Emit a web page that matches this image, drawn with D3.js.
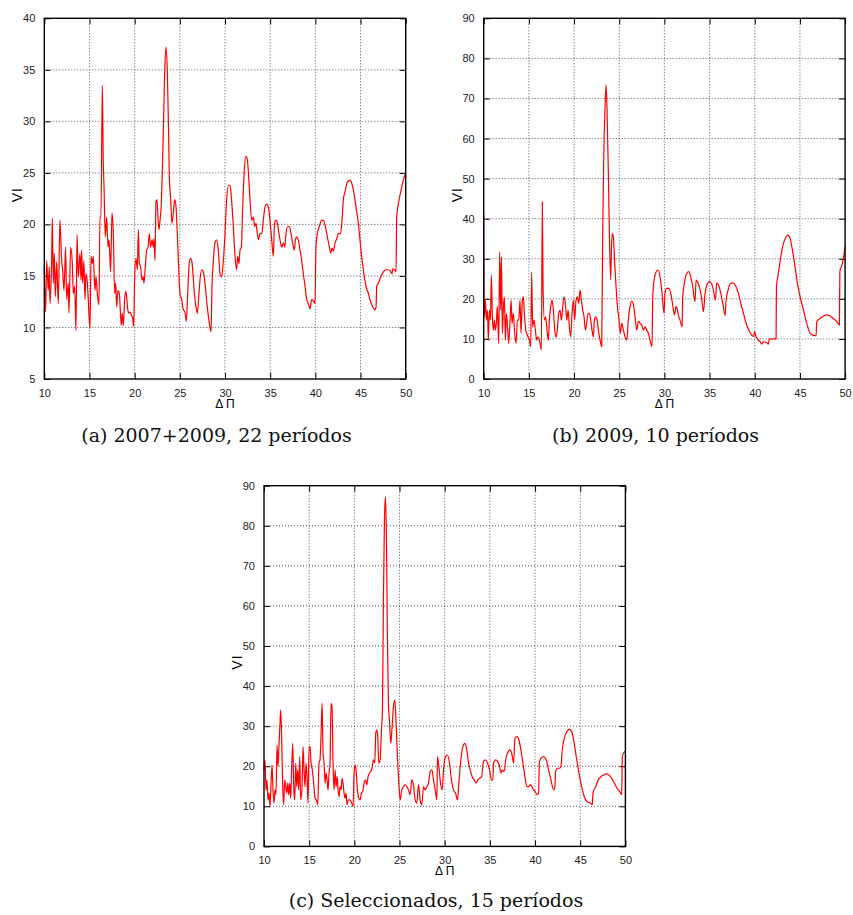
<!DOCTYPE html>
<html>
<head>
<meta charset="utf-8">
<script src="https://cdnjs.cloudflare.com/ajax/libs/d3/7.8.5/d3.min.js"></script>
<style>
  body { margin: 0; background: #fff; }
  svg { display: block; }
</style>
</head>
<body>
<div id="chart-area"></div>
<script>
// tick values
let xTicks = [10, 15, 20, 25, 30, 35, 40, 45, 50];
let yTicksA = [5, 10, 15, 20, 25, 30, 35, 40];
let yTicksBC = [0, 10, 20, 30, 40, 50, 60, 70, 80, 90];

// (a) 2007+2009, 22 periodos  -> [ΔΠ, VI]
let serieA = [
  [10.00,16.0],[10.15,11.5],[10.26,16.5],[10.44,13.6],[10.55,15.9],[10.63,12.3],[10.81,16.5],[10.89,20.6],
  [11.00,14.3],[11.11,17.2],[11.22,13.0],[11.37,16.4],[11.55,12.3],[11.73,20.4],[11.92,16.5],[12.03,15.6],
  [12.18,13.6],[12.36,17.8],[12.47,12.7],[12.66,14.3],[12.73,11.4],[12.92,17.8],[13.10,16.2],[13.21,13.3],
  [13.36,14.0],[13.51,9.7],[13.62,19.0],[13.76,14.9],[13.95,17.2],[14.06,14.6],[14.13,17.5],[14.24,14.3],
  [14.39,16.5],[14.50,12.7],[14.61,15.2],[14.76,14.4],[14.98,10.7],[15.06,9.9],[15.17,16.9],[15.31,16.2],
  [15.42,16.9],[15.61,13.6],[15.72,14.9],[15.87,13.3],[16.05,12.2],[16.16,20.7],[16.27,20.7],[16.42,33.5],
  [16.53,25.9],[16.61,23.7],[16.75,18.8],[16.90,20.7],[17.05,17.8],[17.16,18.5],[17.34,15.4],[17.49,21.1],
  [17.64,19.1],[17.79,13.3],[17.90,14.3],[18.01,12.0],[18.15,13.6],[18.30,13.3],[18.52,10.2],[18.63,11.4],
  [18.75,10.2],[18.89,12.7],[19.04,13.5],[19.23,11.8],[19.34,11.4],[19.48,11.5],[19.63,11.2],[19.78,10.9],
  [19.89,10.1],[20.00,14.9],[20.15,16.7],[20.30,15.6],[20.41,19.5],[20.52,16.2],[20.66,15.9],[20.81,14.6],
  [20.96,14.9],[21.03,14.3],[21.18,15.9],[21.33,17.5],[21.48,17.8],[21.62,19.1],[21.77,17.8],[21.92,18.5],
  [22.07,17.8],[22.14,18.6],[22.25,16.5],[22.36,22.2],[22.47,22.4],[22.58,20.7],[22.69,19.5],[22.80,20.3],
  [22.95,22.0],[23.06,25.0],[23.17,28.8],[23.32,34.7],[23.47,37.2],[23.62,34.7],[23.76,28.8],[23.84,24.6],
  [23.99,22.4],[24.13,20.1],[24.28,21.1],[24.43,22.4],[24.58,21.7],[24.72,19.1],[24.87,15.9],[24.94,14.3],
  [25.02,13.3],[25.09,13.0],[25.20,12.8],[25.31,12.0],[25.42,11.7],[25.57,11.5],[25.72,10.6],[25.87,13.3],
  [26.01,15.9],[26.16,16.7],[26.31,16.5],[26.46,15.2],[26.61,13.3],[26.79,12.0],[26.94,11.4],[27.08,12.7],
  [27.23,14.6],[27.42,15.6],[27.60,15.4],[27.82,14.0],[28.04,12.0],[28.27,10.4],[28.45,9.6],[28.56,14.0],
  [28.71,16.5],[28.89,18.2],[29.08,18.5],[29.26,17.5],[29.45,15.2],[29.63,14.9],[29.82,16.5],[30.00,19.1],
  [30.18,22.4],[30.41,23.8],[30.55,23.8],[30.70,22.7],[30.92,19.8],[31.11,16.9],[31.29,15.6],[31.40,16.9],
  [31.55,16.2],[31.66,17.5],[31.81,17.8],[31.96,21.7],[32.14,25.3],[32.32,26.6],[32.47,26.3],[32.62,24.6],
  [32.77,22.4],[32.95,20.4],[33.14,20.7],[33.28,19.8],[33.43,20.1],[33.58,19.1],[33.73,18.5],[33.87,19.1],
  [34.06,19.1],[34.24,20.4],[34.43,21.7],[34.61,22.0],[34.80,21.7],[34.98,20.4],[35.17,18.5],[35.35,16.9],
  [35.46,19.8],[35.57,20.4],[35.72,20.4],[35.90,19.5],[36.09,18.5],[36.27,17.8],[36.46,18.2],[36.61,17.8],
  [36.75,19.1],[36.94,19.8],[37.12,19.8],[37.31,19.1],[37.49,18.2],[37.68,17.5],[37.79,18.5],[37.93,18.8],
  [38.12,18.5],[38.30,17.5],[38.49,16.5],[38.67,15.2],[38.86,14.0],[39.04,12.7],[39.23,12.3],[39.41,11.8],
  [39.59,12.7],[39.78,12.6],[39.96,12.3],[40.07,17.8],[40.22,19.1],[40.44,19.8],[40.70,20.4],[40.89,20.4],
  [41.11,19.8],[41.33,18.8],[41.55,17.8],[41.70,17.2],[41.85,17.7],[41.99,17.4],[42.18,18.2],[42.36,18.6],
  [42.55,19.1],[42.80,19.1],[42.95,20.4],[43.10,22.4],[43.32,23.3],[43.54,24.1],[43.84,24.3],[44.06,23.9],
  [44.28,23.0],[44.50,21.7],[44.76,20.1],[45.02,17.8],[45.31,15.6],[45.61,14.0],[45.87,13.3],[46.05,12.7],
  [46.24,12.2],[46.42,11.9],[46.61,11.7],[46.72,12.0],[46.79,14.0],[46.97,14.3],[47.23,14.9],[47.53,15.4],
  [47.82,15.6],[48.12,15.6],[48.34,15.4],[48.49,15.2],[48.56,15.7],[48.75,15.6],[48.93,15.4],[49.00,20.7],
  [49.19,22.0],[49.48,23.3],[49.74,24.3],[50.00,25.0]
];

// (b) 2009, 10 periodos
let serieB = [
  [10.00,41.3],[10.07,15.5],[10.18,19.7],[10.30,14.7],[10.41,17.2],[10.52,9.7],[10.63,17.2],[10.74,14.7],
  [10.85,25.9],[10.96,15.5],[11.07,12.2],[11.18,14.7],[11.29,12.2],[11.40,13.9],[11.51,18.1],[11.66,8.9],
  [11.77,31.8],[11.88,17.2],[11.96,30.5],[12.07,11.4],[12.18,18.1],[12.29,20.5],[12.40,9.7],[12.51,16.4],
  [12.66,12.2],[12.77,8.9],[12.92,14.7],[13.03,19.7],[13.14,13.9],[13.28,16.4],[13.43,11.4],[13.58,8.9],
  [13.73,14.7],[13.87,14.7],[14.02,19.7],[14.13,11.4],[14.28,19.7],[14.39,20.5],[14.50,16.4],[14.65,12.2],
  [14.76,11.4],[14.91,10.5],[15.06,9.7],[15.20,8.1],[15.31,26.7],[15.42,13.0],[15.57,14.7],[15.72,12.2],
  [15.87,9.7],[16.01,10.5],[16.24,8.9],[16.38,7.2],[16.49,44.2],[16.57,23.0],[16.72,14.7],[16.86,15.5],
  [17.01,12.2],[17.16,9.7],[17.27,14.7],[17.42,18.1],[17.56,19.7],[17.71,17.2],[17.86,12.2],[18.01,10.5],
  [18.15,12.2],[18.30,16.4],[18.45,17.2],[18.60,14.7],[18.75,18.1],[18.89,20.5],[19.04,18.9],[19.19,14.7],
  [19.34,17.2],[19.48,13.0],[19.63,10.5],[19.78,16.4],[19.93,19.7],[20.07,14.7],[20.22,19.7],[20.37,20.5],
  [20.52,18.9],[20.66,22.2],[20.81,19.7],[20.96,17.2],[21.11,15.5],[21.25,12.2],[21.40,13.9],[21.55,16.4],
  [21.70,16.4],[21.85,14.7],[21.99,12.2],[22.14,10.5],[22.25,14.7],[22.40,15.5],[22.55,14.7],[22.69,12.2],
  [22.88,9.7],[23.06,8.1],[23.17,36.3],[23.28,54.6],[23.43,68.0],[23.54,73.4],[23.65,67.1],[23.80,51.3],
  [23.91,36.3],[24.06,24.7],[24.13,32.2],[24.24,36.3],[24.35,35.5],[24.50,28.9],[24.65,23.0],[24.80,18.1],
  [24.98,14.7],[25.13,11.4],[25.28,13.9],[25.46,12.2],[25.65,10.5],[25.83,9.7],[26.01,14.7],[26.20,18.1],
  [26.38,19.4],[26.57,18.6],[26.75,15.5],[26.94,12.2],[27.12,14.4],[27.31,13.9],[27.49,13.5],[27.68,12.2],
  [27.86,13.0],[28.04,12.2],[28.23,11.4],[28.41,9.7],[28.63,8.1],[28.71,20.5],[28.86,24.7],[29.08,26.7],
  [29.30,27.2],[29.52,25.5],[29.74,21.4],[29.96,16.4],[30.07,21.4],[30.26,22.6],[30.48,22.6],[30.70,21.4],
  [30.89,18.9],[31.11,16.0],[31.29,18.1],[31.44,17.2],[31.59,15.5],[31.73,14.7],[31.96,13.0],[32.03,20.5],
  [32.21,23.9],[32.47,26.4],[32.69,26.8],[32.92,25.5],[33.14,23.0],[33.39,19.3],[33.51,24.7],[33.65,24.3],
  [33.87,23.0],[34.10,20.5],[34.32,16.8],[34.50,21.4],[34.72,23.5],[34.98,24.3],[35.20,23.9],[35.42,22.2],
  [35.65,19.7],[35.79,23.9],[35.98,23.5],[36.24,21.4],[36.46,18.9],[36.72,15.9],[36.83,19.7],[37.05,22.2],
  [37.34,23.9],[37.64,23.9],[37.93,23.0],[38.19,21.4],[38.45,18.9],[38.75,16.4],[39.04,13.9],[39.34,12.2],
  [39.63,11.0],[39.85,10.6],[40.00,11.8],[40.10,10.8],[40.30,10.0],[40.59,9.3],[40.77,8.7],[40.90,9.3],
  [41.14,9.2],[41.33,9.1],[41.51,8.7],[41.59,9.9],[41.88,10.0],[42.25,10.0],[42.36,10.0],[42.40,23.0],
  [42.62,26.4],[42.88,30.5],[43.17,33.8],[43.47,35.5],[43.69,35.9],[43.91,35.1],[44.17,32.2],[44.46,28.0],
  [44.72,23.9],[45.02,20.5],[45.39,17.2],[45.76,13.9],[46.13,11.4],[46.49,10.9],[46.79,10.8],[46.86,14.3],
  [47.23,15.1],[47.60,15.7],[47.97,16.0],[48.34,15.7],[48.71,15.1],[49.08,14.3],[49.37,13.5],[49.42,26.8],
  [49.71,28.9],[50.00,33.0]
];

// (c) Seleccionados, 15 periodos
let serieC = [
  [10.00,19.1],[10.11,21.6],[10.22,14.1],[10.33,16.6],[10.44,11.6],[10.55,13.3],[10.66,9.9],[10.78,15.8],
  [10.89,20.3],[11.00,14.1],[11.11,10.8],[11.22,14.1],[11.33,12.9],[11.44,25.3],[11.55,20.0],[11.66,25.3],
  [11.77,30.7],[11.85,34.1],[11.96,26.6],[12.07,14.9],[12.18,10.4],[12.29,16.6],[12.40,14.9],[12.51,13.3],
  [12.62,15.8],[12.73,12.9],[12.84,15.8],[12.95,12.0],[13.06,19.1],[13.18,25.7],[13.29,14.9],[13.40,11.6],
  [13.51,20.8],[13.62,14.9],[13.73,19.1],[13.84,14.1],[13.95,22.4],[14.06,11.6],[14.21,14.9],[14.32,24.9],
  [14.43,19.1],[14.54,14.9],[14.65,20.8],[14.76,17.4],[14.87,10.8],[14.99,24.9],[15.10,24.9],[15.21,20.8],
  [15.35,19.1],[15.50,15.8],[15.65,12.0],[15.80,11.6],[15.95,10.4],[16.09,20.8],[16.20,21.6],[16.31,27.4],
  [16.43,35.7],[16.54,23.3],[16.65,20.8],[16.76,15.8],[16.87,18.3],[16.98,16.6],[17.09,14.1],[17.20,18.3],
  [17.31,20.8],[17.42,35.7],[17.53,34.9],[17.64,20.8],[17.75,14.1],[17.87,19.1],[17.98,14.9],[18.09,17.4],
  [18.20,14.1],[18.31,12.4],[18.42,14.9],[18.53,14.1],[18.64,17.0],[18.75,15.8],[18.86,13.3],[18.97,12.0],
  [19.08,13.3],[19.19,10.4],[19.34,11.6],[19.53,11.6],[19.71,10.8],[19.86,9.9],[19.97,18.3],[20.08,20.3],
  [20.19,19.1],[20.34,14.1],[20.49,12.0],[20.64,11.6],[20.78,13.3],[20.93,13.7],[21.08,15.8],[21.23,16.6],
  [21.37,15.4],[21.52,17.4],[21.67,18.3],[21.82,18.7],[21.96,19.5],[22.11,21.6],[22.26,20.8],[22.37,28.2],
  [22.48,29.1],[22.59,27.4],[22.70,20.8],[22.85,21.6],[23.00,29.1],[23.11,34.1],[23.22,62.3],[23.33,81.4],
  [23.44,87.3],[23.55,77.3],[23.66,52.4],[23.77,35.7],[23.88,31.6],[24.03,25.7],[24.18,29.9],[24.33,34.9],
  [24.48,36.5],[24.62,30.7],[24.77,22.4],[24.92,15.8],[25.07,11.6],[25.25,14.1],[25.44,14.9],[25.62,15.4],
  [25.81,14.9],[25.99,14.1],[26.17,12.9],[26.36,16.6],[26.54,15.4],[26.73,11.6],[26.91,10.8],[27.10,15.4],
  [27.28,11.6],[27.47,10.4],[27.65,14.9],[27.84,14.1],[28.02,14.9],[28.21,15.8],[28.39,18.7],[28.58,19.1],
  [28.76,16.6],[28.95,14.1],[29.13,11.6],[29.20,22.4],[29.35,20.0],[29.54,15.8],[29.72,14.1],[29.87,19.1],
  [30.09,22.4],[30.31,22.8],[30.53,20.8],[30.75,16.6],[30.97,14.1],[31.20,13.3],[31.42,11.6],[31.57,15.8],
  [31.79,21.6],[32.01,24.9],[32.23,25.7],[32.45,24.1],[32.64,20.8],[32.82,19.1],[33.04,17.4],[33.26,16.6],
  [33.49,15.8],[33.67,16.6],[33.86,17.0],[34.08,17.4],[34.30,21.2],[34.52,21.6],[34.74,20.8],[34.96,19.1],
  [35.18,16.6],[35.33,16.6],[35.41,20.8],[35.63,21.6],[35.85,21.2],[36.07,20.0],[36.22,18.3],[36.37,19.1],
  [36.52,18.7],[36.63,19.1],[36.74,21.6],[36.96,23.3],[37.19,24.1],[37.41,23.3],[37.63,20.8],[37.77,27.0],
  [37.99,27.4],[38.21,26.6],[38.43,24.1],[38.66,20.8],[38.88,17.4],[39.10,14.9],[39.28,14.9],[39.47,15.4],
  [39.65,14.9],[39.84,14.1],[40.02,13.7],[40.21,12.9],[40.39,13.3],[40.47,20.8],[40.65,22.0],[40.95,22.4],
  [41.24,21.6],[41.50,19.1],[41.76,16.6],[42.05,14.1],[42.20,14.9],[42.27,18.7],[42.50,19.5],[42.72,19.5],
  [42.87,20.0],[43.01,24.1],[43.24,27.0],[43.53,28.7],[43.83,29.2],[44.05,28.7],[44.27,26.6],[44.56,22.4],
  [44.86,18.3],[45.16,14.9],[45.45,12.4],[45.75,11.2],[46.12,10.8],[46.34,10.4],[46.41,13.3],[46.71,14.9],
  [47.00,16.6],[47.30,17.4],[47.59,17.8],[47.89,18.1],[48.18,17.8],[48.48,17.0],[48.77,15.8],[49.07,14.5],
  [49.36,13.7],[49.59,12.9],[49.66,22.4],[49.81,23.3],[50.00,23.7]
];

let svg = d3.select("#chart-area").append("svg")
    .attr("width", 853)
    .attr("height", 915);

let plotW = 361.4, plotH = 360.7;

function drawPanel(left, top, yDomain, yTicks, data, caption, capX, capY) {
  let g = svg.append("g")
      .attr("transform", "translate(" + left + "," + top + ")");

  let x = d3.scaleLinear().domain([10, 50]).range([0, plotW]);
  let y = d3.scaleLinear().domain(yDomain).range([plotH, 0]);

  // dotted grid
  g.append("g").selectAll("line.gx")
    .data(xTicks.slice(1, -1))
    .enter().append("line")
      .attr("x1", d => x(d)).attr("x2", d => x(d))
      .attr("y1", 0).attr("y2", plotH)
      .attr("stroke", "#555").attr("stroke-width", 1)
      .attr("stroke-dasharray", "1,2");
  g.append("g").selectAll("line.gy")
    .data(yTicks.slice(1, -1))
    .enter().append("line")
      .attr("x1", 0).attr("x2", plotW)
      .attr("y1", d => y(d)).attr("y2", d => y(d))
      .attr("stroke", "#555").attr("stroke-width", 1)
      .attr("stroke-dasharray", "1,2");

  // axes, ticks pointing inwards like gnuplot
  let xAxis = d3.axisBottom(x).tickValues(xTicks).tickSizeInner(-6).tickSizeOuter(0).tickPadding(10);
  let yAxis = d3.axisLeft(y).tickValues(yTicks).tickSizeInner(-6).tickSizeOuter(0).tickPadding(9);
  let xTop = d3.axisTop(x).tickValues(xTicks).tickSizeInner(-6).tickSizeOuter(0).tickFormat("");
  let yRight = d3.axisRight(y).tickValues(yTicks).tickSizeInner(-6).tickSizeOuter(0).tickFormat("");

  let gx = g.append("g").attr("transform", "translate(0," + plotH + ")").call(xAxis);
  let gy = g.append("g").call(yAxis);
  g.append("g").call(xTop);
  g.append("g").attr("transform", "translate(" + plotW + ",0)").call(yRight);

  g.selectAll(".domain").remove();
  g.selectAll(".tick line").attr("stroke", "#000").attr("stroke-width", 1);
  g.selectAll(".tick text")
    .style("font-family", "'Liberation Sans', Arial, sans-serif")
    .style("font-size", "11px")
    .attr("fill", "#222");

  // curve
  let line = d3.line()
    .x(d => x(d[0]))
    .y(d => y(d[1]))
    .curve(d3.curveMonotoneX);

  g.append("path")
    .datum(data)
    .attr("d", line)
    .attr("fill", "none")
    .attr("stroke", "#ff0000")
    .attr("stroke-width", 1.2)
    .attr("stroke-linejoin", "round");

  // frame
  g.append("rect")
    .attr("width", plotW).attr("height", plotH)
    .attr("fill", "none").attr("stroke", "#000").attr("stroke-width", 1.4);

  // axis titles
  g.append("text")
    .attr("x", plotW / 2).attr("y", plotH + 29)
    .attr("text-anchor", "middle")
    .style("font-family", "'Liberation Sans', Arial, sans-serif")
    .style("font-size", "12px")
    .text("Δ Π");

  g.append("text")
    .attr("transform", "translate(" + (-22) + "," + (plotH / 2 - 4) + ") rotate(-90)")
    .attr("text-anchor", "middle")
    .style("font-family", "'Liberation Sans', Arial, sans-serif")
    .style("font-size", "14px")
    .style("letter-spacing", "1px")
    .text("VI");

  svg.append("text")
    .attr("x", capX).attr("y", capY)
    .attr("text-anchor", "middle")
    .style("font-family", "'DejaVu Serif', serif")
    .style("font-size", "19px")
    .attr("fill", "#111")
    .text(caption);
}

drawPanel(44.3, 18.3, [5, 40], yTicksA, serieA, "(a) 2007+2009, 22 períodos", 216.5, 442);
drawPanel(483.7, 18.3, [0, 90], yTicksBC, serieB, "(b) 2009, 10 períodos", 655.5, 442);
drawPanel(264, 485.7, [0, 90], yTicksBC, serieC, "(c) Seleccionados, 15 períodos", 436, 907);
</script>
</body>
</html>
